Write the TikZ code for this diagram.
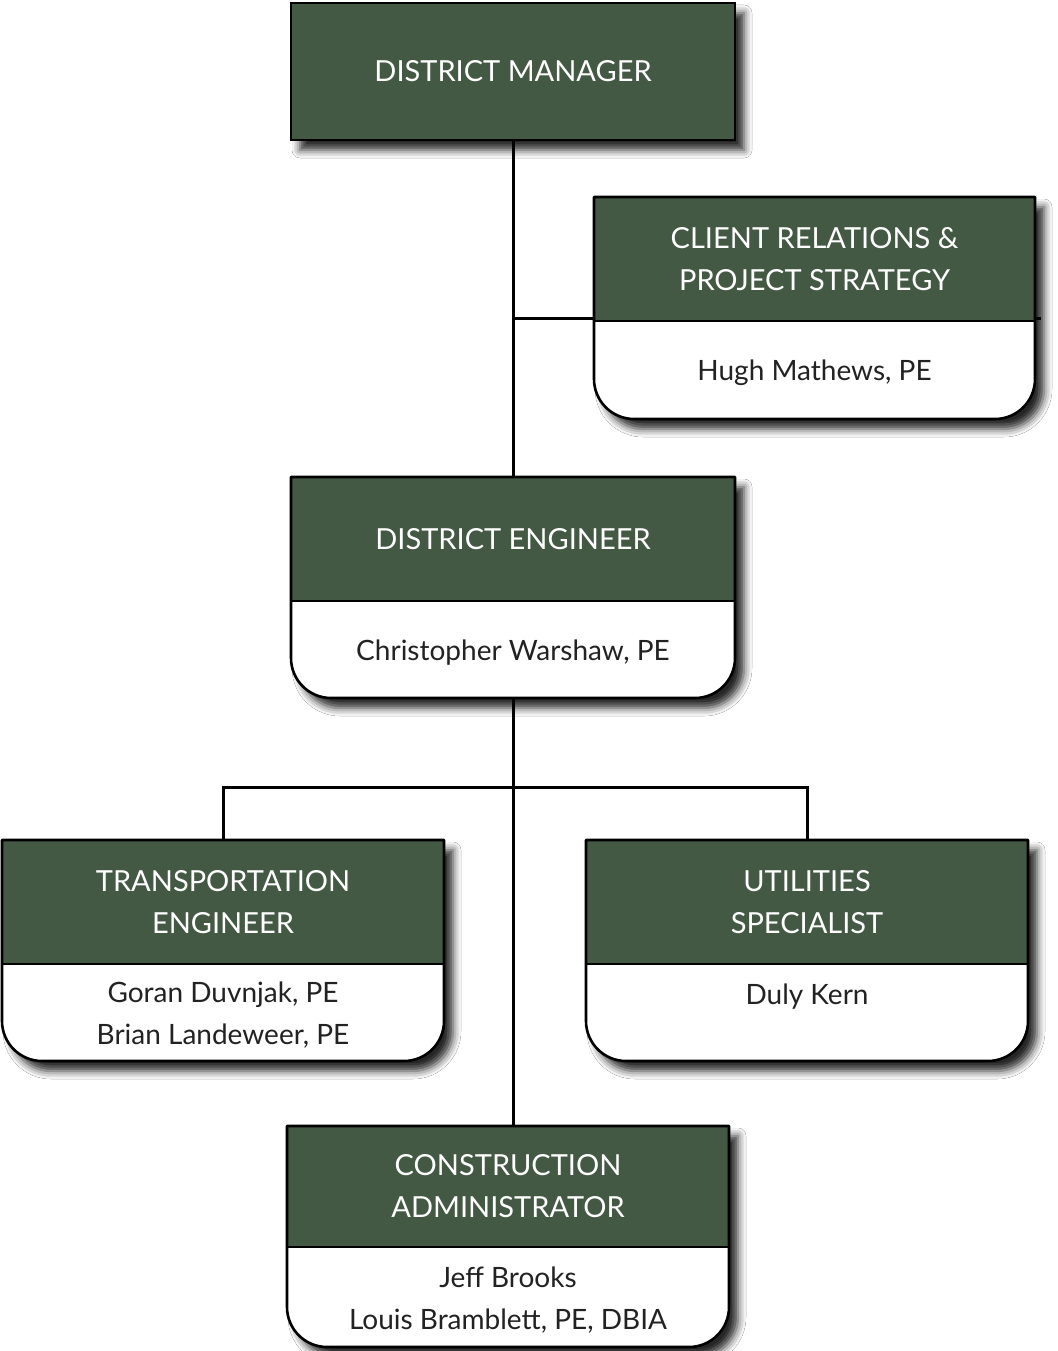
\documentclass[tikz,border=0pt]{standalone}
\usepackage{fontspec}
\setmainfont{Lato}
\usetikzlibrary{shadows.blur}
\definecolor{boxgreen}{RGB}{67,89,68}
\definecolor{txtgray}{RGB}{34,34,34}
\tikzset{
  boxshadow/.style={blur shadow={shadow xshift=9pt, shadow yshift=-10pt, shadow blur radius=8pt, shadow opacity=85}},
  outline/.style={line width=2.6pt, line join=round},
  conn/.style={line width=3pt},
  titletxt/.style={text=white, align=center, inner sep=0pt, font=\fontsize{29}{42}\selectfont},
  nametxt/.style={text=txtgray, align=center, inner sep=0pt, font=\fontsize{28}{42}\selectfont},
  anchorbox/.style={inner sep=0pt, draw=none}
}
% name, x1, x2, y1, ymid, y2, title, names
\newcommand\orgbox[8]{%
  \fill[white, boxshadow] (#2,#4) -- (#3,#4) -- (#3,#6-40) arc[start angle=0,end angle=90,radius=40] -- (#2+40,#6) arc[start angle=90,end angle=180,radius=40] -- cycle;
  \fill[boxgreen] (#2,#4) rectangle (#3,#5);
  \draw[outline] (#2,#5) -- (#3,#5);
  \draw[outline] (#2,#4) -- (#3,#4) -- (#3,#6-40) arc[start angle=0,end angle=90,radius=40] -- (#2+40,#6) arc[start angle=90,end angle=180,radius=40] -- cycle;
  \node[anchorbox, minimum width={(#3-#2)*1pt}, minimum height={(#6-#4)*1pt}] (#1) at ({(#2+#3)/2},{(#4+#6)/2}) {};
  \node[titletxt] (#1-t) at ({(#2+#3)/2},{(#4+#5)/2}) {#7};
  \node[nametxt] (#1-n) at ({(#2+#3)/2},{(#5+#6)/2+3}) {#8};
}
\begin{document}
\begin{tikzpicture}[x=1pt,y=-1pt]
\useasboundingbox[fill=white] (0,0) rectangle (1057,1351);
% anchor nodes for connectors
\node[anchorbox, minimum width=444pt, minimum height=137pt] (dm) at (513,71.5) {};
\node[anchorbox, minimum width=444pt, minimum height=221pt] (de0) at (513,587.5) {};
\node[anchorbox, minimum width=442pt, minimum height=221pt] (te0) at (223,950.5) {};
\node[anchorbox, minimum width=442pt, minimum height=221pt] (us0) at (807,950.5) {};
\node[anchorbox, minimum width=442pt, minimum height=221pt] (ca0) at (508,1236.5) {};
\coordinate (trunkbot) at (513,1126);
% connectors
\draw[conn] (dm.south) -- (trunkbot);
\draw[conn] (te0.north) -- ++(0,-52) -| (us0.north);
% District manager
\fill[boxgreen, boxshadow] (291,3) rectangle (735,140);
\draw[outline, line join=miter] (291,3) rectangle (735,140);
\node[titletxt] (dm-t) at (513,71) {DISTRICT MANAGER};
% boxes
\orgbox{cr}{594}{1035}{197}{321}{419}{CLIENT RELATIONS \&\\PROJECT STRATEGY}{Hugh Mathews, PE}
\orgbox{de}{291}{735}{477}{601}{698}{DISTRICT ENGINEER}{Christopher Warshaw, PE}
\orgbox{te}{2}{444}{840}{964}{1061}{TRANSPORTATION\\ENGINEER}{Goran Duvnjak, PE\\Brian Landeweer, PE}
\orgbox{us}{586}{1028}{840}{964}{1061}{UTILITIES\\SPECIALIST}{Duly Kern\\\mbox{}}
\orgbox{ca}{287}{729}{1126}{1247}{1347}{CONSTRUCTION\\ADMINISTRATOR}{Jeff Brooks\\Louis Bramblett, PE, DBIA}
% client relations link
\coordinate (cj) at (513,318);
\coordinate (cend) at (1041,318);
\draw[conn] (cj) -- (cj -| cr.west);
\draw[conn] (cj -| cr.east) -- (cend);
\end{tikzpicture}
\end{document}
